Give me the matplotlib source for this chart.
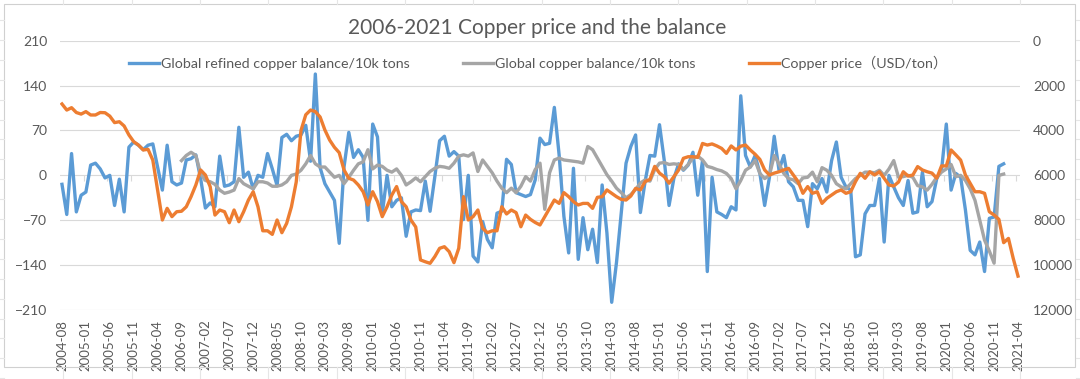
import matplotlib
matplotlib.use("Agg")
import matplotlib.pyplot as plt
from matplotlib.lines import Line2D
from matplotlib.patches import Rectangle
import numpy as np
import pandas as pd

plt.rcParams['font.family'] = ['Lato', 'Noto Sans CJK SC', 'DejaVu Sans']

# monthly, 2004-08 .. 2021-04
months = pd.period_range('2004-08', '2021-04', freq='M').strftime('%Y-%m').tolist()

# Global refined copper balance (10k tons), 2004-08 .. 2021-01
refined_balance = [
    -14, -61, 34, -57, -31, -26, 16, 19, 10, -4,
    0, -47, -6, -57, 44, 52, 47, 40, 47, 49,
    13, -23, 47, -10, -15, -12, 24, 26, 32, -5,
    -51, -43, -49, 30, -17, -15, -10, 75, -3, 5,
    -21, 0, -3, 34, 10, -16, 59, 64, 54, 61,
    63, 78, 22, 158, 12, -13, -26, -39, -106, 13,
    67, 28, 40, 28, -70, 80, 60, -60, 0, -49,
    -39, -35, -95, -57, -54, -55, -9, -56, -2, 54,
    61, 30, 37, 30, -69, 0, -126, -135, -72, -100,
    -113, -59, -56, 25, 17, -27, -30, -33, -30, -7,
    58, 48, 50, 106, 32, -64, -121, 11, -131, -66,
    -116, -84, -136, -15, -90, -198, -136, -58, 19, 45,
    63, -58, -9, 31, 30, 79, 23, -47, -5, 18,
    8, 16, 36, -31, 23, -150, -3, -57, -61, -66,
    -49, -54, 124, 31, 13, 31, 3, -47, -3, 61,
    8, 31, -10, -18, -39, -39, -80, -13, -21, -5,
    -26, 23, 52, -3, -18, -23, -127, -124, -60, -47,
    -47, -5, -104, 0, -18, -35, -47, -8, -59, -57,
    5, -49, -41, -5, 8, 80, -23, 3, -3, -54,
    -117, -124, -104, -150, -67, -65, 14, 18,
]

# Global copper balance (10k tons), 2006-09 .. 2021-01
copper_balance_start = 25
copper_balance = [
    23, 31, 36, 31, 3, -8, -10, -14, -23, -28,
    -26, -23, -5, -13, -17, -21, -10, -10, -12, -17,
    -17, -15, -10, 0, 2, 8, 18, 31, 18, 13,
    13, 5, -3, 0, -13, -3, 8, 18, 21, 40,
    10, 16, 14, 8, 5, 10, 0, -15, -10, -4,
    -10, -2, 6, 11, 14, 13, 11, 19, 30, 32,
    30, 35, 6, 24, 14, 4, -9, -20, -27, -20,
    -27, -17, -2, -9, 9, 19, -53, 4, 24, 27,
    24, 23, 22, 21, 19, 45, 40, 27, 14, 1,
    -9, -20, -27, -35, -30, -22, -12, -7, -9, 9,
    19, 20, 17, 18, 17, 9, 17, 27, 30, 24,
    14, 12, 9, 7, 3, -5, -21, -8, 8, 13,
    23, 3, -5, 0, 31, 18, 3, -5, -7, -13,
    -4, -3, 5, -10, 12, 8, 0, -13, -18, -21,
    -13, -5, 0, 5, 5, 4, 8, 0, 10, 23,
    -3, -2, 0, -3, -16, -18, -23, -14, -3, 5,
    10, 17, -2, 0, -8, -21, -39, -70, -101, -118,
    -137, 0, 2,
]

# Copper price (USD/ton), 2004-08 .. 2021-04
copper_price = [
    2820, 3090, 2985, 3200, 3270, 3160, 3310, 3310, 3200, 3210,
    3360, 3650, 3610, 3800, 4200, 4500, 4650, 4870, 4840, 5320,
    6650, 7990, 7470, 7840, 7620, 7600, 7400, 6950, 6430, 5760,
    5985, 6505, 7770, 7545, 7620, 8110, 7545, 8065, 7620, 7100,
    6730, 7400, 8470, 8470, 8630, 7990, 8555, 8140, 7400, 6300,
    4000, 3300, 3090, 3160, 3400, 3980, 4430, 4750, 4990, 5760,
    6130, 6210, 6430, 6730, 7320, 6730, 7170, 7840, 7400, 6880,
    6500, 7170, 7400, 7990, 8300, 9770, 9850, 9920, 9620, 9250,
    9180, 9400, 9890, 9250, 6950, 7990, 7840, 7545, 8360, 8555,
    8470, 8470, 7400, 7720, 7545, 7660, 8290, 7770, 7960, 8100,
    8210, 7840, 7470, 7100, 7250, 6770, 6950, 7170, 7320, 7250,
    7250, 7470, 6980, 6950, 6650, 6800, 6950, 7070, 7100, 6920,
    6580, 6650, 6280, 6180, 5600, 5900, 6060, 6350, 6060, 5760,
    5240, 5170, 5170, 5200, 4580, 4650, 4600, 4690, 4800, 5020,
    4690, 4870, 4700, 4650, 4870, 5060, 5290, 5760, 5985, 5900,
    5840, 5760, 5690, 5985, 6280, 6800, 6500, 6800, 6730, 7250,
    7025, 6880, 6730, 6650, 6800, 6730, 6280, 5910, 6130, 5840,
    5985, 5840, 6130, 6430, 6475, 6300, 5840, 6030, 5985, 5610,
    5760, 5840, 5900, 6130, 5580, 5580, 4870, 5090, 5320, 5985,
    6360, 6730, 6730, 6800, 7620, 7770, 7960, 9000, 8810, 9700,
    10490,
]

left_ticks = [-210, -140, -70, 0, 70, 140, 210]
right_ticks = [0, 2000, 4000, 6000, 8000, 10000, 12000]

BLUE = '#5B9BD5'
GRAY = '#A5A5A5'
ORANGE = '#ED7D31'
TEXT = '#595959'
GRID = '#D9D9D9'

W, H = 1080, 379
fig = plt.figure(figsize=(W / 100, H / 100), dpi=100)


def px(x0, y0, x1, y1, **kw):
    # line in figure pixel coords (top-left origin)
    fig.add_artist(Line2D([x0 / W, x1 / W], [1 - y0 / H, 1 - y1 / H],
                          transform=fig.transFigure, **kw))


# faint spreadsheet cells around the chart area
for k in range(-1, 16):
    cx = 63.3 + 68.35 * k
    px(cx, 0, cx, 4, color='#E6E6E6', lw=0.8)
    px(cx, 367, cx, 379, color='#E6E6E6', lw=0.8)
for k in range(0, 19):
    cy = 20 + 19.9 * k
    px(0, cy, 3.5, cy, color='#E6E6E6', lw=0.8)
    px(1075.5, cy, W, cy, color='#E6E6E6', lw=0.8)
fig.add_artist(Rectangle((4 / W, 1 - 367 / H), 1071 / W, 363 / H,
                         transform=fig.transFigure, fill=False,
                         edgecolor='#D0D0D0', lw=0.8))

ax_left, ax_right = 59.6, 1020.4
ax_top, ax_bot = 40.7, 310.0
ax = fig.add_axes([ax_left / W, 1 - ax_bot / H,
                   (ax_right - ax_left) / W, (ax_bot - ax_top) / H])
ax2 = ax.twinx()

LW = 2.4
x_all = np.arange(len(months))
l1, = ax.plot(x_all[:len(refined_balance)], refined_balance, color=BLUE, lw=LW,
              solid_joinstyle='round', label='Global refined copper balance/10k tons')
x_cb = np.arange(copper_balance_start, copper_balance_start + len(copper_balance))
l2, = ax.plot(x_cb, copper_balance, color=GRAY, lw=LW, solid_joinstyle='round',
              label='Global copper balance/10k tons')
l3, = ax2.plot(x_all[:len(copper_price)], copper_price, color=ORANGE, lw=LW,
               solid_joinstyle='round', label='Copper price（USD/ton）')

ax.set_xlim(-0.5, len(months) - 0.5)
ax.set_ylim(-210, 210)
ax.set_yticks(left_ticks)
ax2.set_ylim(12000, 0)
ax2.set_yticks(right_ticks)

ax.set_xticks(x_all[::5])
ax.set_xticklabels(months[::5], rotation=90)
ax.tick_params(axis='x', length=0, pad=7, labelsize=9.5, colors=TEXT)
ax.tick_params(axis='y', length=0, pad=9, labelsize=10, colors=TEXT)
ax2.tick_params(axis='y', length=0, pad=9, labelsize=10, colors=TEXT)

ax.yaxis.grid(True, color=GRID, lw=0.8)
ax.set_axisbelow(True)
for a in (ax, ax2):
    for s in a.spines.values():
        s.set_visible(False)

# category axis crossing at zero, tick marks between every 5th label
sec = ax.secondary_xaxis(0.5)
sec.set_xticks(np.arange(4.5, len(months) - 1, 5))
sec.tick_params(axis='x', direction='in', length=4, color=GRID, width=0.8,
                labeltop=False, labelbottom=False)
for s in sec.spines.values():
    s.set_visible(False)

fig.text(537 / W, 1 - 28 / H, '2006-2021 Copper price and the balance',
         ha='center', va='center', fontsize=15, color=TEXT)

leg = ax.legend(handles=[l1, l2, l3], loc='center', bbox_to_anchor=(0.498, 0.917),
                ncol=3, frameon=False, fontsize=10.3, handlelength=2.1,
                handletextpad=0.15, columnspacing=3.7, labelcolor=TEXT)

fig.savefig('out.png', dpi=100)
